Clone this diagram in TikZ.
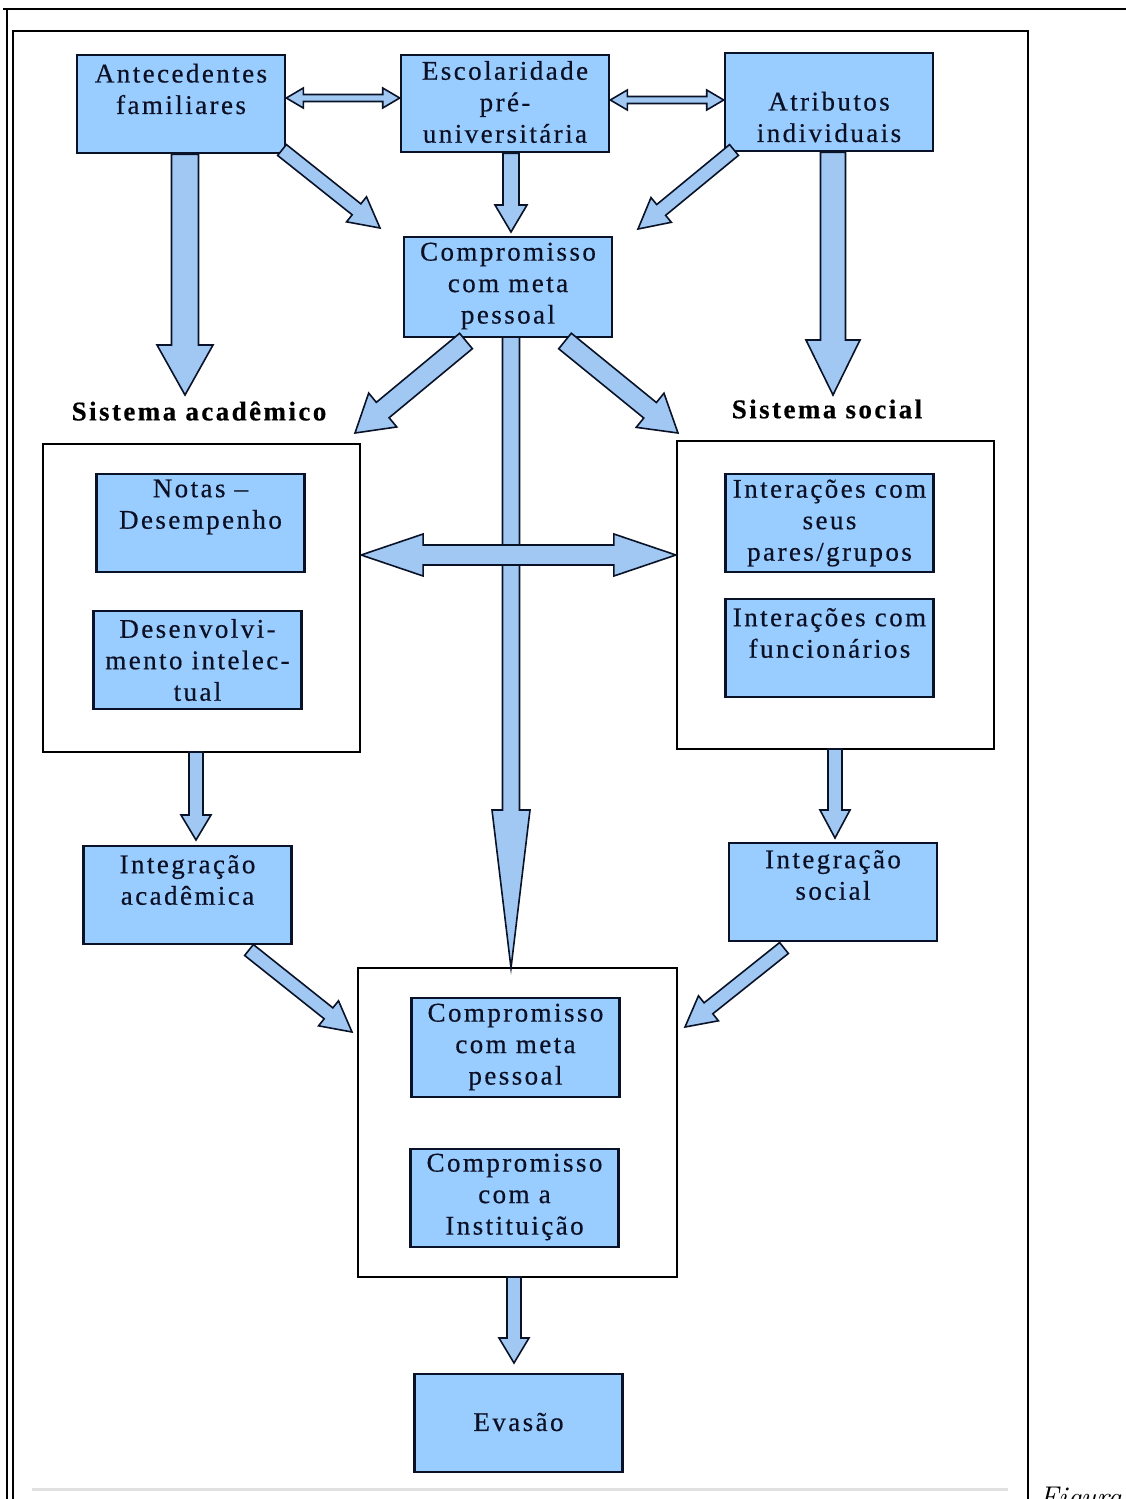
\documentclass[tikz,border=0pt]{standalone}
\usepackage{fontspec}
\usetikzlibrary{calc}
\newfontfamily\df[LetterSpace=9,FakeBold=0.5]{Liberation Serif}
\definecolor{bfill}{RGB}{153,204,255}
\definecolor{afill}{RGB}{160,200,242}
\definecolor{edge}{RGB}{10,18,40}
\definecolor{tcol}{RGB}{12,16,36}
\newcommand\barrow[6]{% name, start, tip, half shaft, half head, head length
  \coordinate (#1h) at ($(#3)!#6!(#2)$);
  \draw[arr] ($(#2)!#4!90:(#3)$) -- ($(#1h)!#4!90:(#3)$) -- ($(#1h)!#5!90:(#3)$) -- (#3)
    -- ($(#1h)!#5!-90:(#3)$) -- ($(#1h)!#4!-90:(#3)$) -- ($(#2)!#4!-90:(#3)$) -- cycle;}
\newcommand\dbarrow[6]{% name, tip1, tip2, half shaft, half head, head length
  \coordinate (#1a) at ($(#2)!#6!(#3)$);
  \coordinate (#1b) at ($(#3)!#6!(#2)$);
  \draw[arr] (#2) -- ($(#1a)!#5!90:(#3)$) -- ($(#1a)!#4!90:(#3)$) -- ($(#1b)!#4!90:(#3)$)
    -- ($(#1b)!#5!90:(#3)$) -- (#3) -- ($(#1b)!#5!-90:(#3)$) -- ($(#1b)!#4!-90:(#3)$)
    -- ($(#1a)!#4!-90:(#3)$) -- ($(#1a)!#5!-90:(#3)$) -- cycle;}
\begin{document}
\begin{tikzpicture}[x=1pt,y=-1pt,
  box/.style={draw=edge, line width=2.6pt, fill=bfill, minimum width=208pt, minimum height=98pt, inner sep=0pt},
  panel/.style={draw=black, line width=2.2pt, fill=white, inner sep=0pt, minimum width=317pt, minimum height=308pt},
  txt/.style={font=\df\fontsize{27}{31.5}\selectfont, align=center, text=tcol, inner sep=0pt},
  lbl/.style={font=\df\bfseries\fontsize{27}{31}\selectfont, text=black, inner sep=0pt},
  arr/.style={draw=edge, line width=1.6pt, fill=afill, line join=miter},
  frame/.style={draw=black, line width=1.3pt}]
\useasboundingbox (0,0) rectangle (1126,1499);
\fill[white] (0,0) rectangle (1126,1499);
% frames
\draw[frame] (3,9) -- (1126,9);
\draw[frame] (7,9) -- (7,1499);
\draw[frame] (13,1499) -- (13,31) -- (1028,31) -- (1028,1499);
\draw[draw={rgb,255:red,224;green,224;blue,224}, line width=3pt] (32,1489) -- (1008,1489);
\node[anchor=base west, font=\itshape\fontsize{30}{34}\selectfont, inner sep=0pt] (fig) at (1039,1507) {Figura};

% panels
\node[panel] (acad) at (201.5,598) {};
\node[panel] (soc) at (835.5,595) {};
\node[panel, minimum width=319pt, minimum height=309pt] (fin) at (517.5,1122.5) {};

% boxes
\node[box] (ant) at (181,104) {};
\node[box, minimum height=97pt] (esc) at (505,103.5) {};
\node[box] (atr) at (829,102) {};
\node[box, minimum height=100pt] (cmp) at (508,287) {};
\node[box] (notas) at (200.5,523) {};
\node[box] (desv) at (197.5,660) {};
\node[box] (pares) at (829.5,523) {};
\node[box] (func) at (829.5,648) {};
\node[box] (inta) at (187.5,895) {};
\node[box] (ints) at (833,892) {};
\node[box, minimum height=99pt] (cmp2) at (515.5,1047.5) {};
\node[box] (inst) at (514.5,1198) {};
\node[box] (eva) at (518.5,1423) {};

% texts
\node[txt] (tant) at (181,89) {Antecedentes\\familiares};
\node[txt] (tesc) at (505,102) {Escolaridade\\pré-\\universitária};
\node[txt] (tatr) at (829,117) {Atributos\\individuais};
\node[txt] (tcmp) at (508,286) {Compromisso\\com meta\\pessoal};
\node[txt] (tnotas) at (200.5,507) {Notas –\\Desempenho};
\node[txt] (tdesv) at (197.5,660) {Desenvolvi-\\mento intelec-\\tual};
\node[txt] (tpares) at (829.5,523) {Interações com\\seus\\pares/grupos};
\node[txt] (tfunc) at (829.5,633) {Interações com\\funcionários};
\node[txt] (tinta) at (187.5,880) {Integração\\acadêmica};
\node[txt] (tints) at (833,875) {Integração\\social};
\node[txt] (tcmp2) at (515.5,1047) {Compromisso\\com meta\\pessoal};
\node[txt] (tinst) at (514.5,1197) {Compromisso\\com a\\Instituição};
\node[txt] (teva) at (518.5,1422) {Evasão};
\node[lbl] (lacad) at (199,411) {Sistema acadêmico};
\node[lbl] (lsoc) at (827,409) {Sistema social};

% arrow end points
\coordinate (d1s) at (ant.east |- 0,98);
\coordinate (d1t) at (esc.west |- 0,98);
\coordinate (d2s) at (esc.east |- 0,100);
\coordinate (d2t) at (atr.west |- 0,100);
\coordinate (d3s) at (acad.east |- 0,555);
\coordinate (d3t) at (soc.west |- 0,555);
\coordinate (a1s) at ($(ant.south)+(4,0)$);
\coordinate (a1t) at (185,395);
\coordinate (a2s) at ($(atr.south)+(4,0)$);
\coordinate (a2t) at (833,395);
\coordinate (a3s) at (282,150);
\coordinate (a3t) at (380,228);
\coordinate (a4s) at (734,150);
\coordinate (a4t) at (638,229);
\coordinate (a5s) at ($(esc.south)+(6,0)$);
\coordinate (a5t) at (511,232);
\coordinate (a6s) at (466,341);
\coordinate (a6t) at (355,433);
\coordinate (a7s) at (565,341);
\coordinate (a7t) at (678,433);
\coordinate (a8s) at (511,337);
\coordinate (a8t) at (511,968);
\coordinate (a9s) at (196,752);
\coordinate (a9t) at (196,840);
\coordinate (a10s) at (835,749);
\coordinate (a10t) at (835,838);
\coordinate (a11s) at (249,950);
\coordinate (a11t) at (352,1032);
\coordinate (a12s) at (784,948);
\coordinate (a12t) at (685,1027);
\coordinate (a13s) at (514,1277);
\coordinate (a13t) at (514,1363);

% arrows
\dbarrow{d1}{d1s}{d1t}{3.5pt}{10pt}{17pt}
\dbarrow{d2}{d2s}{d2t}{3.5pt}{10pt}{17pt}
\barrow{b1}{a1s}{a1t}{13.5pt}{28pt}{50pt}
\barrow{b2}{a2s}{a2t}{12.5pt}{27pt}{55pt}
\barrow{b3}{a3s}{a3t}{7pt}{16pt}{30pt}
\barrow{b4}{a4s}{a4t}{7pt}{16pt}{30pt}
\barrow{b5}{a5s}{a5t}{8pt}{16pt}{27pt}
\barrow{b6}{a6s}{a6t}{10pt}{22pt}{36pt}
\barrow{b7}{a7s}{a7t}{10pt}{22pt}{36pt}
\barrow{b8}{a8s}{a8t}{8.5pt}{19pt}{158pt}
\dbarrow{d3}{d3s}{d3t}{10pt}{21pt}{62pt}
\barrow{b9}{a9s}{a9t}{7pt}{15pt}{25pt}
\barrow{b10}{a10s}{a10t}{7pt}{15pt}{28pt}
\barrow{b11}{a11s}{a11t}{7pt}{16pt}{30pt}
\barrow{b12}{a12s}{a12t}{7pt}{16pt}{30pt}
\barrow{b13}{a13s}{a13t}{7pt}{15pt}{25pt}
\end{tikzpicture}
\end{document}
